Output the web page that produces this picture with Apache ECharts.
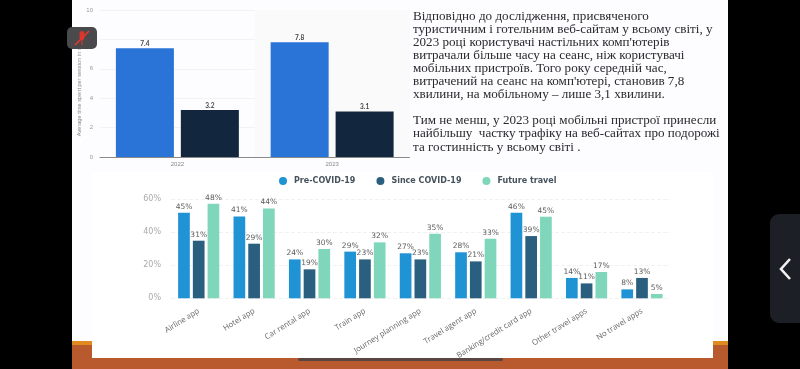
<!DOCTYPE html>
<html><head><meta charset="utf-8">
<style>html,body{margin:0;padding:0;background:#000;overflow:hidden}#c{width:800px;height:369px;filter:blur(0.55px)}</style>
<script src="https://cdn.jsdelivr.net/npm/echarts@6/dist/echarts.min.js"></script>
</head><body><div id="c"></div>
<script>
// Top chart
const timeYears = ['2022', '2023'];
const timeDesktop = [7.4, 7.8];
const timeMobile = [3.2, 3.1];
const timeAxisName = 'Average time spent per session in minutes';
// Bottom chart: categories, drawn bar heights and printed labels (the picture's bars do not follow its labels)
const appCategories = ['Airline app','Hotel app','Car rental app','Train app','Journey planning app','Travel agent app','Banking/credit card app','Other travel apps','No travel apps'];
const preCovid = [51.7,49.5,23.5,28.2,27.2,27.8,51.7,12.3,5.4];
const sinceCovid = [34.8,33,17.5,23.5,23.5,22.3,37.6,9,12.3];
const futureTravel = [57.1,54.3,29.8,33.8,39,36,49.3,15.9,2.6];
const preLabels = [45,41,24,29,27,28,46,14,8];
const sinceLabels = [31,29,19,23,23,21,39,11,13];
const futureLabels = [48,44,30,32,35,33,45,17,5];
const slideLines = [
 ['Відповідно до дослідження, присвяченого',16.7],
 ['туристичним і готельним веб-сайтам у всьому світі, у',30],
 ['2023 році користувачі настільних комп\'ютерів',43],
 ['витрачали більше часу на сеанс, ніж користувачі',56],
 ['мобільних пристроїв. Того року середній час,',69],
 ['витрачений на сеанс на комп\'ютері, становив 7,8',82],
 ['хвилини, на мобільному – лише 3,1 хвилини.',95],
 ['Тим не менш, у 2023 році мобільні пристрої принесли',120.7],
 ['найбільшу  частку трафіку на веб-сайтах про подорожі',134],
 ['та гостинність у всьому світі .',147.3]
];

const rect=(x,y,w,h,fill,z,r)=>({type:'rect',silent:true,z:z,shape:{x,y,width:w,height:h,r:r||0},style:{fill}});
const graphics=[
 rect(72,0,656,369,'#fdfcfe',-5),
 rect(92,172,621,186,'#ffffff',-4),
 rect(72,341,20,4,'#e08a20',-3),
 rect(713,341,15,4,'#e08a20',-3),
 rect(72,345,20,24,'#b85a2e',-3),
 rect(713,345,15,24,'#b85a2e',-3),
 rect(72,358,656,11,'#b85a2e',-3),
 rect(298,358,205,3,'#5a4640',50,1.5),
 rect(67,27,30,22,'#4a4a4c',50,5),
 rect(79.5,31,5,9,'#d8352c',51,2.5),
 {type:'line',silent:true,z:52,shape:{x1:75,y1:45,x2:89,y2:31},style:{stroke:'#e8352c',lineWidth:1.6}},
 {type:'line',silent:true,z:52,shape:{x1:82,y1:40,x2:82,y2:45},style:{stroke:'#d8352c',lineWidth:1.2}},
 rect(770,214,40,109,'#1c1f26',50,9),
 {type:'polyline',silent:true,z:52,shape:{points:[[790,259],[781,269],[790,279]]},style:{stroke:'#f2f2f2',lineWidth:2.6,fill:'none'}},
 ...slideLines.map(([t,y])=>({type:'text',silent:true,z:40,x:413,y:y,style:{text:t,fill:'#2a2a2e',font:'13.1px "Liberation Serif"',textVerticalAlign:'middle'}}))
];

function appSeries(name,data,labels,color){
 return {name,type:'bar',xAxisIndex:1,yAxisIndex:1,data,barWidth:11.7,barGap:'26%',
  itemStyle:{color},
  label:{show:true,position:'top',distance:2,color:'#5c5c5c',fontSize:7.5,fontFamily:'DejaVu Sans',
   formatter:p=>labels[p.dataIndex]+'%'}};
}
function timeSeries(name,data,color){
 return {name,type:'bar',xAxisIndex:0,yAxisIndex:0,data,barWidth:58,barGap:'12%',
  itemStyle:{color},
  label:{show:true,position:'top',distance:1,color:'#444',fontSize:6.5,fontWeight:'bold',fontFamily:'Lato',
   formatter:p=>p.value.toFixed(1)}};
}
const chart=echarts.init(document.getElementById('c'),null,{renderer:'canvas'});
chart.setOption({
 animation:false,
 backgroundColor:'#000000',
 graphic:graphics,
 legend:{data:['Pre-COVID-19','Since COVID-19','Future travel'],left:274,top:172,icon:'circle',itemWidth:8,itemHeight:8,itemGap:21,
  selectedMode:false,textStyle:{color:'#46525c',fontSize:8,fontFamily:'DejaVu Sans',fontWeight:'bold',padding:[0,0,0,2]}},
 grid:[
  {left:100,right:390.5,top:10,height:147,containLabel:false},
  {left:171,right:130.3,top:199,height:99.3}
 ],
 xAxis:[
  {gridIndex:0,type:'category',data:timeYears,axisTick:{show:false},axisLine:{lineStyle:{color:'#8a8a8a',width:1}},
   axisLabel:{color:'#888',fontSize:6,margin:4},
   splitArea:{show:true,areaStyle:{color:['rgba(0,0,0,0)','#fafafb']}}},
  {gridIndex:1,type:'category',data:appCategories,axisTick:{show:false},axisLine:{show:false},
   axisLabel:{color:'#666',fontSize:7.8,fontFamily:'Open Sans',rotate:32,margin:12,interval:0}}
 ],
 yAxis:[
  {gridIndex:0,type:'value',min:0,max:10,interval:2,axisLabel:{color:'#999',fontSize:6,margin:7},
   name:timeAxisName,nameLocation:'middle',nameGap:15,nameTextStyle:{color:'#888',fontSize:5.6},
   splitLine:{lineStyle:{color:'#f2f2f3',width:1}}},
  {gridIndex:1,type:'value',min:0,max:60,interval:20,axisLabel:{color:'#aaa',fontSize:8,fontFamily:'DejaVu Sans',margin:10,formatter:'{value}%'},
   splitLine:{lineStyle:{color:'#f1f1f3',type:'dashed',width:1}}}
 ],
 series:[
  timeSeries('Desktop',timeDesktop,'#2a74d8'),
  timeSeries('Mobile',timeMobile,'#12263d'),
  appSeries('Pre-COVID-19',preCovid,preLabels,'#2093d4'),
  appSeries('Since COVID-19',sinceCovid,sinceLabels,'#2b5f80'),
  appSeries('Future travel',futureTravel,futureLabels,'#7fd6ba')
 ]
});
</script></body></html>
